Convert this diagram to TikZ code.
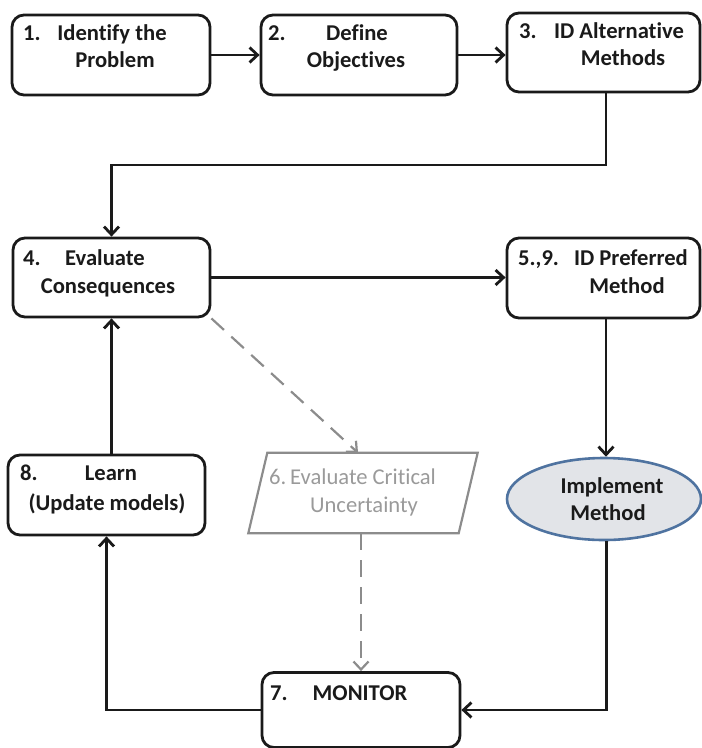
\documentclass[tikz,border=0pt]{standalone}
\usepackage{fontspec}
\setmainfont{Carlito}[Ligatures={NoCommon,NoContextual}]
\usetikzlibrary{arrows.meta,shapes.geometric}
\definecolor{ink}{HTML}{1A1A1A}
\definecolor{dgray}{HTML}{8C8C8C}
\definecolor{tgray}{HTML}{9A9A9A}
\definecolor{ellfill}{HTML}{E2E4E8}
\definecolor{elldraw}{HTML}{4F73A0}
\begin{document}
\begin{tikzpicture}[x=1pt,y=-1pt,
  stepbox/.style={draw=ink, line width=2.8pt, rounded corners=12pt, minimum height=80pt, inner sep=0pt},
  txt/.style={font=\fontsize{22.6}{27}\selectfont\bfseries, inner sep=0pt, text=ink},
  gtxt/.style={font=\fontsize{22.6}{27}\selectfont, inner sep=0pt, text=tgray},
  arr/.style={draw=ink, line width=2.8pt, -{Straight Barb[length=8pt,width=15pt]}},
  dsh/.style={draw=dgray, line width=2.2pt, dash pattern=on 17pt off 10pt, -{Straight Barb[length=8pt,width=15pt]}},
  paraline/.style={draw=dgray, line width=2.2pt},
  impl/.style={ellipse, draw=elldraw, fill=ellfill, line width=2.6pt, minimum width=194pt, minimum height=82pt, inner sep=0pt}
]
\useasboundingbox (0,0) rectangle (702,748);

% boxes
\node[stepbox, minimum width=198pt] (b1) at (111,55) {};
\node[stepbox, minimum width=196pt] (b2) at (359,55) {};
\node[stepbox, minimum width=193pt, minimum height=79pt] (b3) at (603.5,52.5) {};
\node[stepbox, minimum width=197pt, minimum height=79pt] (b4) at (111.5,277.5) {};
\node[stepbox, minimum width=193pt] (b5) at (603.5,278) {};
\node[stepbox, minimum width=197pt] (b8) at (106.5,495) {};
\node[stepbox, minimum width=198pt, minimum height=75pt] (b7) at (361,710) {};
\node[impl] (ell) at (604,499) {};
\node[minimum width=210pt, minimum height=80pt, inner sep=0pt] (p6) at (363,493) {};
\draw[paraline] ([xshift=9.5pt]p6.north west) -- ([xshift=9.5pt]p6.north east)
  -- ([xshift=-9.5pt]p6.south east) -- ([xshift=-9.5pt]p6.south west) -- cycle;

% texts
\node[txt, anchor=base west] (n1) at (23,40) {1.};
\node[txt, anchor=base] (t1a) at (112,40) {Identify the};
\node[txt, anchor=base] (t1b) at (115,67) {Problem};
\node[txt, anchor=base west] (n2) at (268,40) {2.};
\node[txt, anchor=base] (t2a) at (357,40) {Define};
\node[txt, anchor=base] (t2b) at (356,67) {Objectives};
\node[txt, anchor=base west] (n3) at (519,38) {3.};
\node[txt, anchor=base] (t3a) at (619,38) {ID Alternative};
\node[txt, anchor=base] (t3b) at (623,65) {Methods};
\node[txt, anchor=base west] (n4) at (23,265) {4.};
\node[txt, anchor=base] (t4a) at (105,265) {Evaluate};
\node[txt, anchor=base] (t4b) at (108,293) {Consequences};
\node[txt, anchor=base west] (n5) at (518,265) {5.,9.};
\node[txt, anchor=base] (t5a) at (631,265) {ID Preferred};
\node[txt, anchor=base] (t5b) at (627,293) {Method};
\node[txt, anchor=base west] (n8) at (20,480) {8.};
\node[txt, anchor=base] (t8a) at (111,480) {Learn};
\node[txt, anchor=base] (t8b) at (107,510) {(Update models)};
\node[gtxt, anchor=base west] (t6a) at (269,484) {6.\,Evaluate Critical};
\node[gtxt, anchor=base] (t6b) at (364,512) {Uncertainty};
\node[txt, anchor=base] (tia) at (612,493) {Implement};
\node[txt, anchor=base] (tib) at (608,520) {Method};
\node[txt, anchor=base west] (n7) at (270,700) {7.};
\node[txt, anchor=base] (t7) at (360,700) {MONITOR};

% connectors
\draw[arr] (b1.east) -- (b2.west);
\draw[arr] (b2.east) -- (b2.east -| b3.west);
\draw[arr] ([xshift=2.5pt]b3.south) -- ++(0,71.5) -| (b4.north);
\draw[arr] (b4.east) -- (b4.east -| b5.west);
\draw[arr] ([xshift=2.5pt]b5.south) -- ([xshift=2.5pt]b5.south |- ell.north);
\draw[arr] ([xshift=2.5pt]ell.south) |- (b7.east);
\draw[arr] (b7.west) -| (b8.south);
\draw[arr] (b8.north -| b4.south) -- (b4.south);
\draw[dsh] (b4.south east) -- ([xshift=-5pt]p6.north);
\draw[dsh] (b7.north |- p6.south) -- (b7.north);
\end{tikzpicture}
\end{document}
